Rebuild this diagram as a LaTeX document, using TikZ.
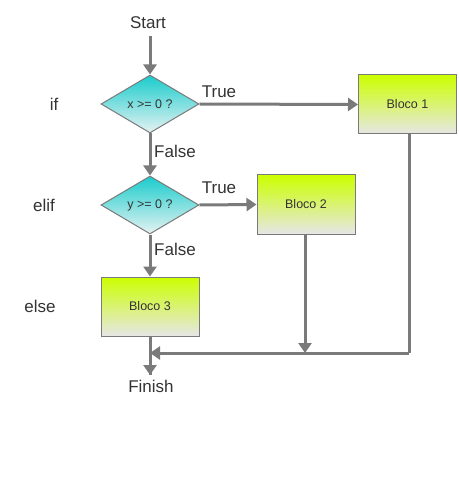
\documentclass[tikz,border=0pt]{standalone}
\usepackage{fontspec}
\setmainfont{Liberation Sans}
\usetikzlibrary{arrows.meta,shapes.geometric}
\definecolor{ln}{HTML}{7A7A7A}
\definecolor{tx}{HTML}{333333}
\definecolor{lime}{HTML}{CCFF00}
\definecolor{boxbot}{HTML}{E6E6E6}
\definecolor{teal}{HTML}{1ACCCC}
\definecolor{tealbot}{HTML}{E6F2F2}
\tikzset{
  lbl/.style={text=tx,font=\fontsize{17}{19}\selectfont,inner sep=0pt},
  blk/.style={draw=ln,line width=1pt,top color=lime,bottom color=boxbot,minimum width=98pt,minimum height=59pt,text=tx,font=\fontsize{12.5}{14}\selectfont,inner sep=0pt},
  dec/.style={diamond,draw=ln,line width=1pt,top color=teal,bottom color=tealbot,minimum width=98pt,minimum height=58pt,aspect=1.7,inner sep=0pt,text=tx,font=\fontsize{12.5}{14}\selectfont},
  conn/.style={draw=ln,line width=3pt,-{Triangle[width=13pt,length=10pt]}},
  plain/.style={draw=ln,line width=3pt}
}
\begin{document}
\begin{tikzpicture}[x=1pt,y=-1pt]
\useasboundingbox (0,0) rectangle (458,494);
\node[lbl] (start) at (148,23) {Start};
\node[dec] (d1) at (150,104) {x >= 0 ?};
\node[dec] (d2) at (150,205) {y >= 0 ?};
\node[blk] (b1) at (407.5,104.5) {Bloco 1};
\node[blk] (b2) at (306,204.5) {Bloco 2};
\node[blk] (b3) at (150,306.5) {Bloco 3};
\node[lbl] (finish) at (151,386) {Finish};
\node[lbl] (if) at (54,104) {if};
\node[lbl] (elif) at (44,205) {elif};
\node[lbl] (else) at (40,306) {else};
\node[lbl] (t1) at (219,92) {True};
\node[lbl] (t2) at (219,188) {True};
\node[lbl] (f1) at (175,151) {False};
\node[lbl] (f2) at (175,249) {False};
\coordinate (s0) at (150,36);
\coordinate (m1) at (409,353);
\coordinate (m0) at (150,353);
\coordinate (m2) at (305,353);
\coordinate (fe) at (150,375);
\draw[conn] (s0) -- (d1.north);
\draw[conn] (d1.east) -- (b1.west);
\draw[conn] (d1.south) -- (d2.north);
\draw[conn] (d2.east) -- (b2.west);
\draw[conn] (d2.south) -- (b3.north);
\draw[plain] (b1.south -| m1) -- (m1);
\draw[plain] (b3.south) -- (fe);
\draw[conn] (m1) -- (m0);
\draw[conn] (b2.south -| m2) -- (m2);
\draw[conn] (b3.south) -- (fe);
\end{tikzpicture}
\end{document}
